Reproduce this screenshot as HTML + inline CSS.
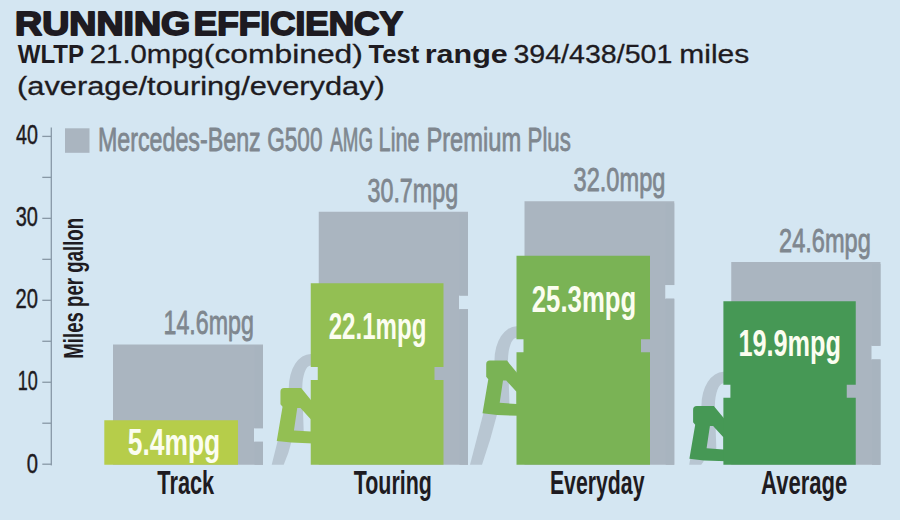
<!DOCTYPE html>
<html><head><meta charset="utf-8"><title>Running efficiency</title>
<style>
html,body{margin:0;padding:0;background:#d4e6f2;}
body{width:900px;height:520px;overflow:hidden;position:relative;}
svg{position:absolute;left:0;top:0;display:block;}
text{font-family:"Liberation Sans",Arial,sans-serif;}
</style></head><body>
<svg width="900" height="520" viewBox="0 0 900 520">
<rect width="900" height="520" fill="#d4e6f2"/>
<text x="15.09" y="35.10" font-size="32.70" font-weight="bold" fill="#1e1b21" textLength="175.14" lengthAdjust="spacingAndGlyphs" stroke="#1e1b21" stroke-width="1.80" stroke-linejoin="round">RUNNING</text>
<text x="193.85" y="35.10" font-size="32.70" font-weight="bold" fill="#1e1b21" textLength="209.12" lengthAdjust="spacingAndGlyphs" stroke="#1e1b21" stroke-width="1.80" stroke-linejoin="round">EFFICIENCY</text>
<text x="17.78" y="62.80" font-size="26.50" font-weight="bold" fill="#1e1b21" textLength="66.32" lengthAdjust="spacingAndGlyphs">WLTP</text>
<text x="89.77" y="62.65" font-size="26.50" font-weight="normal" fill="#1e1b21" textLength="114.17" lengthAdjust="spacingAndGlyphs" stroke="#1e1b21" stroke-width="0.30" stroke-linejoin="round">21.0mpg</text>
<text x="203.88" y="62.65" font-size="26.50" font-weight="normal" fill="#1e1b21" textLength="158.94" lengthAdjust="spacingAndGlyphs" stroke="#1e1b21" stroke-width="0.30" stroke-linejoin="round">(combined)</text>
<text x="368.62" y="62.80" font-size="26.50" font-weight="bold" fill="#1e1b21" textLength="50.58" lengthAdjust="spacingAndGlyphs">Test</text>
<text x="424.69" y="62.80" font-size="26.50" font-weight="bold" fill="#1e1b21" textLength="83.05" lengthAdjust="spacingAndGlyphs">range</text>
<text x="513.46" y="62.65" font-size="26.50" font-weight="normal" fill="#1e1b21" textLength="158.88" lengthAdjust="spacingAndGlyphs" stroke="#1e1b21" stroke-width="0.30" stroke-linejoin="round">394/438/501</text>
<text x="679.26" y="62.65" font-size="26.50" font-weight="normal" fill="#1e1b21" textLength="69.97" lengthAdjust="spacingAndGlyphs" stroke="#1e1b21" stroke-width="0.30" stroke-linejoin="round">miles</text>
<text x="17.14" y="95.05" font-size="26.50" font-weight="normal" fill="#1e1b21" textLength="367.72" lengthAdjust="spacingAndGlyphs" stroke="#1e1b21" stroke-width="0.30" stroke-linejoin="round">(average/touring/everyday)</text>
<rect x="50.65" y="127.5" width="1.3" height="337.90" fill="#8898a6"/>
<rect x="42.3" y="463.55" width="9.00" height="1.3" fill="#8898a6"/>
<rect x="42.3" y="422.57" width="9.00" height="1.3" fill="#8898a6"/>
<rect x="42.3" y="381.60" width="9.00" height="1.3" fill="#8898a6"/>
<rect x="42.3" y="340.62" width="9.00" height="1.3" fill="#8898a6"/>
<rect x="42.3" y="299.65" width="9.00" height="1.3" fill="#8898a6"/>
<rect x="42.3" y="258.68" width="9.00" height="1.3" fill="#8898a6"/>
<rect x="42.3" y="217.70" width="9.00" height="1.3" fill="#8898a6"/>
<rect x="42.3" y="176.72" width="9.00" height="1.3" fill="#8898a6"/>
<rect x="42.3" y="135.75" width="9.00" height="1.3" fill="#8898a6"/>
<text x="15.97" y="143.88" font-size="27.58" font-weight="normal" fill="#1e1b21" textLength="21.87" lengthAdjust="spacingAndGlyphs" stroke="#1e1b21" stroke-width="0.45" stroke-linejoin="round">40</text>
<text x="15.67" y="226.38" font-size="27.58" font-weight="normal" fill="#1e1b21" textLength="22.19" lengthAdjust="spacingAndGlyphs" stroke="#1e1b21" stroke-width="0.45" stroke-linejoin="round">30</text>
<text x="15.41" y="308.27" font-size="27.58" font-weight="normal" fill="#1e1b21" textLength="22.45" lengthAdjust="spacingAndGlyphs" stroke="#1e1b21" stroke-width="0.45" stroke-linejoin="round">20</text>
<text x="17.75" y="389.67" font-size="27.58" font-weight="normal" fill="#1e1b21" textLength="20.02" lengthAdjust="spacingAndGlyphs" stroke="#1e1b21" stroke-width="0.45" stroke-linejoin="round">10</text>
<text x="26.64" y="472.57" font-size="27.58" font-weight="normal" fill="#1e1b21" textLength="11.23" lengthAdjust="spacingAndGlyphs" stroke="#1e1b21" stroke-width="0.45" stroke-linejoin="round">0</text>
<g transform="translate(82.5,357.5) rotate(-90)"><text x="-1.25" y="0.00" font-size="28.20" font-weight="bold" fill="#1e1b21" textLength="140.90" lengthAdjust="spacingAndGlyphs">Miles per gallon</text></g>
<rect x="65" y="128.3" width="24.5" height="24.5" fill="#aab5c0"/>
<text x="97.89" y="150.90" font-size="33.28" font-weight="normal" fill="#7f878f" textLength="162.87" lengthAdjust="spacingAndGlyphs" stroke="#7f878f" stroke-width="0.80" stroke-linejoin="round">Mercedes-Benz</text>
<text x="267.26" y="150.90" font-size="33.28" font-weight="normal" fill="#7f878f" textLength="55.22" lengthAdjust="spacingAndGlyphs" stroke="#7f878f" stroke-width="0.80" stroke-linejoin="round">G500</text>
<text x="330.36" y="150.90" font-size="33.28" font-weight="normal" fill="#7f878f" textLength="42.63" lengthAdjust="spacingAndGlyphs" stroke="#7f878f" stroke-width="0.80" stroke-linejoin="round">AMG</text>
<text x="378.62" y="150.90" font-size="33.28" font-weight="normal" fill="#7f878f" textLength="40.94" lengthAdjust="spacingAndGlyphs" stroke="#7f878f" stroke-width="0.80" stroke-linejoin="round">Line</text>
<text x="426.46" y="150.90" font-size="33.28" font-weight="normal" fill="#7f878f" textLength="94.70" lengthAdjust="spacingAndGlyphs" stroke="#7f878f" stroke-width="0.80" stroke-linejoin="round">Premium</text>
<text x="527.58" y="150.90" font-size="33.28" font-weight="normal" fill="#7f878f" textLength="43.23" lengthAdjust="spacingAndGlyphs" stroke="#7f878f" stroke-width="0.80" stroke-linejoin="round">Plus</text>
<path d="M113.00 344.40H263.00V428.20H254.00V441.80H263.00V464.80H113.00Z" fill="#aab5c0"/>
<rect x="254.50" y="346.40" width="8.5" height="81.80" fill="#a8b4bf"/>
<rect x="254.50" y="441.80" width="8.5" height="23.00" fill="#a8b4bf"/>
<text x="163.53" y="333.90" font-size="32.81" font-weight="normal" fill="#7f878f" textLength="90.26" lengthAdjust="spacingAndGlyphs" stroke="#7f878f" stroke-width="0.80" stroke-linejoin="round">14.6mpg</text>
<path d="M104.30 420.30L238.00 420.30L238.00 464.80L104.30 464.80Z" fill="#b6cd4a"/>
<text x="127.69" y="454.70" font-size="36.82" font-weight="bold" fill="#fbfdf0" textLength="92.48" lengthAdjust="spacingAndGlyphs">5.4mpg</text>
<text x="157.36" y="494.10" font-size="32.70" font-weight="bold" fill="#1e1b21" textLength="56.82" lengthAdjust="spacingAndGlyphs">Track</text>
<path d="M318.75 211.80H468.00V295.60H459.00V309.20H468.00V464.80H318.75Z" fill="#aab5c0"/>
<rect x="459.50" y="213.80" width="8.5" height="81.80" fill="#a8b4bf"/>
<rect x="459.50" y="309.20" width="8.5" height="155.60" fill="#a8b4bf"/>
<text x="367.51" y="201.60" font-size="32.81" font-weight="normal" fill="#7f878f" textLength="90.59" lengthAdjust="spacingAndGlyphs" stroke="#7f878f" stroke-width="0.80" stroke-linejoin="round">30.7mpg</text>
<path d="M313.75 353.90L310.75 353.90A22 34 0 0 0 288.75 387.90L291.75 432.90L303.75 432.90L302.25 387.90A8.5 22.5 0 0 1 310.75 365.40L313.75 365.40Z" fill="#b8c6d2"/>
<path d="M277.75 440.40L291.75 440.40Q288.73 453.60 283.70 464.80L271.70 464.80Z" fill="#b8c6d2"/>
<path d="M284.15 388.10L301.15 388.10L313.75 403.40L313.75 443.40L291.35 442.60L276.75 440.90L282.55 406.80L280.45 404.20L280.45 391.80Q280.45 388.10 284.15 388.10ZM297.25 408.10L300.45 408.10L310.75 419.20L310.75 431.60L293.95 430.40Z" fill="#93bf53" fill-rule="evenodd"/>
<path d="M310.75 283.30L443.50 283.30L443.50 366.90L434.50 366.90L434.50 379.90L443.50 379.90L443.50 464.80L310.75 464.80L310.75 379.90L317.75 379.90L317.75 366.90L310.75 366.90Z" fill="#93bf53"/>
<text x="328.66" y="338.70" font-size="36.82" font-weight="bold" fill="#fbfdf0" textLength="97.75" lengthAdjust="spacingAndGlyphs">22.1mpg</text>
<text x="353.76" y="494.10" font-size="32.70" font-weight="bold" fill="#1e1b21" textLength="78.14" lengthAdjust="spacingAndGlyphs">Touring</text>
<path d="M524.50 201.25H674.25V285.05H665.25V298.65H674.25V464.80H524.50Z" fill="#aab5c0"/>
<rect x="665.75" y="203.25" width="8.5" height="81.80" fill="#a8b4bf"/>
<rect x="665.75" y="298.65" width="8.5" height="166.15" fill="#a8b4bf"/>
<text x="573.50" y="191.30" font-size="32.81" font-weight="normal" fill="#7f878f" textLength="91.92" lengthAdjust="spacingAndGlyphs" stroke="#7f878f" stroke-width="0.80" stroke-linejoin="round">32.0mpg</text>
<path d="M519.50 326.35L516.50 326.35A22 34 0 0 0 494.50 360.35L497.50 405.35L509.50 405.35L508.00 360.35A8.5 22.5 0 0 1 516.50 337.85L519.50 337.85Z" fill="#b8c6d2"/>
<path d="M483.50 412.85L497.50 412.85Q490.76 439.83 482.01 464.80L470.01 464.80Z" fill="#b8c6d2"/>
<path d="M489.90 360.55L506.90 360.55L519.50 375.85L519.50 415.85L497.10 415.05L482.50 413.35L488.30 379.25L486.20 376.65L486.20 364.25Q486.20 360.55 489.90 360.55ZM503.00 380.55L506.20 380.55L516.50 391.65L516.50 404.05L499.70 402.85Z" fill="#7ab355" fill-rule="evenodd"/>
<path d="M516.50 255.75L650.00 255.75L650.00 339.35L641.00 339.35L641.00 352.35L650.00 352.35L650.00 464.80L516.50 464.80L516.50 352.35L523.50 352.35L523.50 339.35L516.50 339.35Z" fill="#7ab355"/>
<text x="531.81" y="312.30" font-size="36.82" font-weight="bold" fill="#fbfdf0" textLength="104.41" lengthAdjust="spacingAndGlyphs">25.3mpg</text>
<text x="549.88" y="494.10" font-size="32.70" font-weight="bold" fill="#1e1b21" textLength="94.64" lengthAdjust="spacingAndGlyphs">Everyday</text>
<path d="M731.25 262.00H880.50V345.80H871.50V359.40H880.50V464.80H731.25Z" fill="#aab5c0"/>
<rect x="872.00" y="264.00" width="8.5" height="81.80" fill="#a8b4bf"/>
<rect x="872.00" y="359.40" width="8.5" height="105.40" fill="#a8b4bf"/>
<text x="779.11" y="252.30" font-size="32.81" font-weight="normal" fill="#7f878f" textLength="91.70" lengthAdjust="spacingAndGlyphs" stroke="#7f878f" stroke-width="0.80" stroke-linejoin="round">24.6mpg</text>
<path d="M726.40 371.85L723.40 371.85A22 34 0 0 0 701.40 405.85L704.40 450.85L716.40 450.85L714.90 405.85A8.5 22.5 0 0 1 723.40 383.35L726.40 383.35Z" fill="#b8c6d2"/>
<path d="M690.40 458.35L704.40 458.35Q703.80 462.58 701.20 464.80L689.20 464.80Z" fill="#b8c6d2"/>
<path d="M696.80 406.05L713.80 406.05L726.40 421.35L726.40 461.35L704.00 460.55L689.40 458.85L695.20 424.75L693.10 422.15L693.10 409.75Q693.10 406.05 696.80 406.05ZM709.90 426.05L713.10 426.05L723.40 437.15L723.40 449.55L706.60 448.35Z" fill="#469855" fill-rule="evenodd"/>
<path d="M723.40 301.25L855.75 301.25L855.75 384.85L846.75 384.85L846.75 397.85L855.75 397.85L855.75 464.80L723.40 464.80L723.40 397.85L730.40 397.85L730.40 384.85L723.40 384.85Z" fill="#469855"/>
<text x="738.41" y="356.25" font-size="36.82" font-weight="bold" fill="#fbfdf0" textLength="102.53" lengthAdjust="spacingAndGlyphs">19.9mpg</text>
<text x="761.06" y="494.10" font-size="32.70" font-weight="bold" fill="#1e1b21" textLength="86.29" lengthAdjust="spacingAndGlyphs">Average</text>
</svg>
</body></html>
